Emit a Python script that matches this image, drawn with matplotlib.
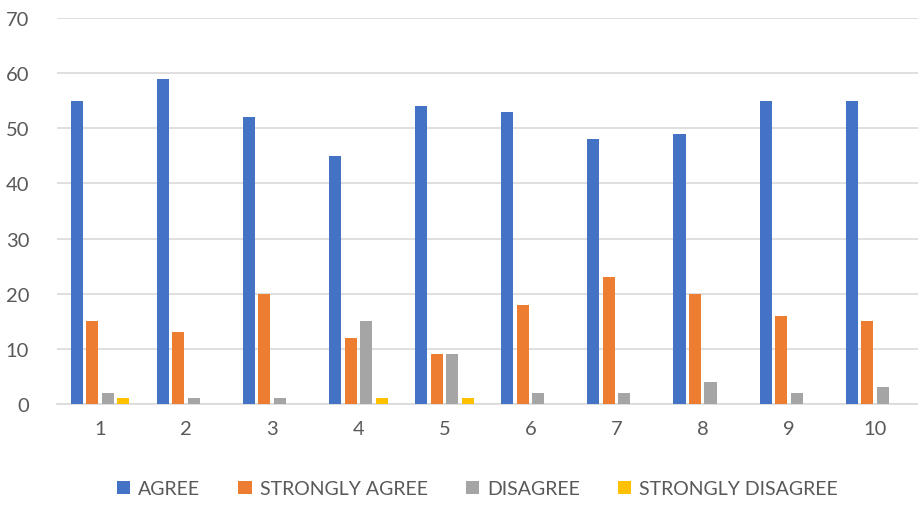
import numpy as np
import matplotlib
matplotlib.use('Agg')
import matplotlib.pyplot as plt

plt.rcParams['font.family'] = ['Lato', 'DejaVu Sans']

categories = ['1', '2', '3', '4', '5', '6', '7', '8', '9', '10']
agree = [55, 59, 52, 45, 54, 53, 48, 49, 55, 55]
strongly_agree = [15, 13, 20, 12, 9, 18, 23, 20, 16, 15]
disagree = [2, 1, 1, 15, 9, 2, 2, 4, 2, 3]
strongly_disagree = [1, 0, 0, 1, 1, 0, 0, 0, 0, 0]

series = [
    ('AGREE', agree, '#4472C4'),
    ('STRONGLY AGREE', strongly_agree, '#ED7D31'),
    ('DISAGREE', disagree, '#A5A5A5'),
    ('STRONGLY DISAGREE', strongly_disagree, '#FFC000'),
]

fig = plt.figure(figsize=(9.18, 5.06), dpi=100)
ax = fig.add_axes([0.062, 0.2, 0.938, 0.762])

x = np.arange(len(categories))
step = 0.18
width = 0.14
for i, (name, vals, col) in enumerate(series):
    ax.bar(x + (i - 1.5) * step, vals, width, color=col, label=name, zorder=3)

ax.set_xlim(-0.5, len(categories) - 0.5)
ax.set_ylim(0, 70)
ax.set_yticks(range(0, 71, 10))
ax.set_xticks(x)
ax.set_xticklabels(categories)
ax.yaxis.grid(True, color='#d9d9d9', linewidth=1.2, zorder=0)
for s in ['top', 'right', 'left']:
    ax.spines[s].set_visible(False)
ax.spines['bottom'].set_color('#d9d9d9')
ax.spines['bottom'].set_linewidth(1.2)
ax.tick_params(axis='both', length=0, labelsize=14.5, labelcolor='#595959')
ax.tick_params(axis='x', pad=12)
ax.tick_params(axis='y', pad=20)

leg = fig.legend(loc='center', bbox_to_anchor=(0.52, 0.032), ncol=4, frameon=False,
                 fontsize=14, handlelength=0.7, handleheight=0.7, handletextpad=0.4,
                 columnspacing=1.95)
for t in leg.get_texts():
    t.set_color('#595959')

fig.savefig('out.png', dpi=100)
